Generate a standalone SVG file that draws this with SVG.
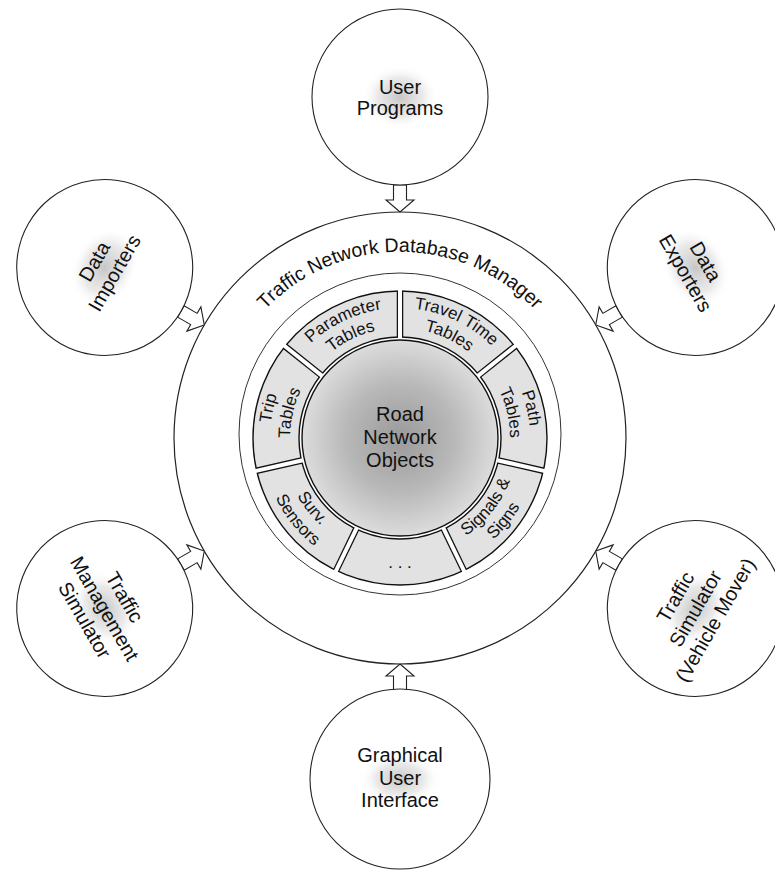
<svg xmlns="http://www.w3.org/2000/svg" width="775" height="871" viewBox="0 0 775 871">
<style>
text{font-family:"Liberation Sans",Arial,sans-serif;fill:#111;}
.sat{fill:#fff;stroke:#222;stroke-width:1.1;}
.st{font-size:20px;text-anchor:middle;}
.seg{font-size:17px;}
.arrow{fill:#fff;stroke:#222;stroke-width:1.1;stroke-linejoin:miter;}
</style>
<defs>
<radialGradient id="blob">
<stop offset="0" stop-color="#bcbcbc" stop-opacity="0.85"/>
<stop offset="0.6" stop-color="#d4d4d4" stop-opacity="0.5"/>
<stop offset="1" stop-color="#ffffff" stop-opacity="0"/>
</radialGradient>
<radialGradient id="core">
<stop offset="0" stop-color="#9a9a9a"/>
<stop offset="0.55" stop-color="#b8b8b8"/>
<stop offset="1" stop-color="#dcdcdc"/>
</radialGradient>
<g id="gap">
<line x1="400" y1="337" x2="400" y2="291" stroke="#111" stroke-width="6.5"/>
<line x1="400" y1="338.3" x2="400" y2="289.3" stroke="#fff" stroke-width="4"/>
</g>
<polygon id="arw" class="arrow" points="626,438 638,424 638,431.5 653,431.5 653,444.5 638,444.5 638,452"/>
<path id="arcT1" d="M287.42 373 A130 130 0 0 1 512.58 373" fill="none"/>
<path id="arcT2" d="M304.74 383 A110 110 0 0 1 495.26 383" fill="none"/>
<path id="arcB1" d="M297.81 497 A118 118 0 0 0 502.19 497" fill="none"/>
<path id="arcB2" d="M280.49 507 A138 138 0 0 0 519.51 507" fill="none"/>
<path id="arcTitle" d="M216.8 405.7 A186 186 0 0 1 583.2 405.7" fill="none"/>
</defs>

<g id="database-manager">
<circle cx="400" cy="438" r="226" fill="#fff" stroke="#222" stroke-width="1.2"/>
<circle cx="400" cy="434" r="161" fill="none" stroke="#333" stroke-width="1"/>
<text style="font-size:19.5px"><textPath href="#arcTitle" startOffset="50%" text-anchor="middle">Traffic Network Database Manager</textPath></text>
</g>

<g id="connectors">
<use href="#arw" transform="rotate(-90 400 438)"/>
<use href="#arw" transform="rotate(-30 400 438)"/>
<use href="#arw" transform="rotate(30 400 438)"/>
<use href="#arw" transform="rotate(90 400 438)"/>
<use href="#arw" transform="rotate(150 400 438)"/>
<use href="#arw" transform="rotate(210 400 438)"/>
</g>

<g id="user-programs" transform="translate(400 97)">
<circle r="88" class="sat"/>
<ellipse rx="38" ry="32" fill="url(#blob)"/>
<text class="st"><tspan x="0" y="-3">User</tspan><tspan x="0" y="18">Programs</tspan></text>
</g>
<g id="data-importers" transform="translate(104.7 267.5) rotate(-60)">
<circle r="88" class="sat"/>
<ellipse rx="42" ry="32" fill="url(#blob)"/>
<text class="st"><tspan x="0" y="-5">Data</tspan><tspan x="0" y="18">Importers</tspan></text>
</g>
<g id="data-exporters" transform="translate(695.3 267.5) rotate(60)">
<circle r="88" class="sat"/>
<ellipse rx="42" ry="32" fill="url(#blob)"/>
<text class="st"><tspan x="0" y="-5">Data</tspan><tspan x="0" y="18">Exporters</tspan></text>
</g>
<g id="traffic-management-simulator" transform="translate(104.7 608.5) rotate(60)">
<circle r="88" class="sat"/>
<ellipse rx="40" ry="30" fill="url(#blob)"/>
<text class="st"><tspan x="0" y="-16">Traffic</tspan><tspan x="0" y="7">Management</tspan><tspan x="0" y="30">Simulator</tspan></text>
</g>
<g id="traffic-simulator" transform="translate(695.3 608.5) rotate(-60)">
<circle r="88" class="sat"/>
<ellipse rx="40" ry="30" fill="url(#blob)"/>
<text class="st"><tspan x="0" y="-16">Traffic</tspan><tspan x="0" y="7">Simulator</tspan><tspan x="0" y="30">(Vehicle Mover)</tspan></text>
</g>
<g id="graphical-user-interface" transform="translate(400 779)">
<circle r="90" class="sat"/>
<ellipse rx="40" ry="26" fill="url(#blob)"/>
<text class="st"><tspan x="0" y="-17">Graphical</tspan><tspan x="0" y="5.5">User</tspan><tspan x="0" y="28">Interface</tspan></text>
</g>

<g id="table-ring">
<path d="M253 438 A147 147 0 1 0 547 438 A147 147 0 1 0 253 438 Z M299 438 A101 101 0 1 0 501 438 A101 101 0 1 0 299 438 Z" fill="#e2e2e2" fill-rule="evenodd" stroke="#111" stroke-width="1.4"/>
<use href="#gap"/>
<use href="#gap" transform="rotate(51.4286 400 438)"/>
<use href="#gap" transform="rotate(102.857 400 438)"/>
<use href="#gap" transform="rotate(154.286 400 438)"/>
<use href="#gap" transform="rotate(205.714 400 438)"/>
<use href="#gap" transform="rotate(257.143 400 438)"/>
<use href="#gap" transform="rotate(308.571 400 438)"/>
</g>

<g id="travel-time-tables" transform="rotate(25.714 400 438)">
<text class="seg"><textPath href="#arcT1" startOffset="50%" text-anchor="middle">Travel Time</textPath></text>
<text class="seg"><textPath href="#arcT2" startOffset="50%" text-anchor="middle">Tables</textPath></text>
</g>
<g id="path-tables" transform="rotate(77.143 400 438)">
<text class="seg"><textPath href="#arcT1" startOffset="50%" text-anchor="middle">Path</textPath></text>
<text class="seg"><textPath href="#arcT2" startOffset="50%" text-anchor="middle">Tables</textPath></text>
</g>
<g id="signals-signs" transform="rotate(-51.429 400 438)">
<text class="seg"><textPath href="#arcB1" startOffset="50%" text-anchor="middle">Signals &amp;</textPath></text>
<text class="seg"><textPath href="#arcB2" startOffset="50%" text-anchor="middle">Signs</textPath></text>
</g>
<g id="more">
<text class="seg" x="400" y="568" text-anchor="middle">. . .</text>
</g>
<g id="surv-sensors" transform="rotate(51.429 400 438)">
<text class="seg"><textPath href="#arcB1" startOffset="50%" text-anchor="middle">Surv.</textPath></text>
<text class="seg"><textPath href="#arcB2" startOffset="50%" text-anchor="middle">Sensors</textPath></text>
</g>
<g id="trip-tables" transform="rotate(-77.143 400 438)">
<text class="seg"><textPath href="#arcT1" startOffset="50%" text-anchor="middle">Trip</textPath></text>
<text class="seg"><textPath href="#arcT2" startOffset="50%" text-anchor="middle">Tables</textPath></text>
</g>
<g id="parameter-tables" transform="rotate(-25.714 400 438)">
<text class="seg"><textPath href="#arcT1" startOffset="50%" text-anchor="middle">Parameter</textPath></text>
<text class="seg"><textPath href="#arcT2" startOffset="50%" text-anchor="middle">Tables</textPath></text>
</g>

<g id="road-network-objects">
<circle cx="400" cy="438" r="98" fill="url(#core)" stroke="#111" stroke-width="1.4"/>
<text style="font-size:20px" text-anchor="middle"><tspan x="400" y="421">Road</tspan><tspan x="400" y="444">Network</tspan><tspan x="400" y="467">Objects</tspan></text>
</g>
</svg>
